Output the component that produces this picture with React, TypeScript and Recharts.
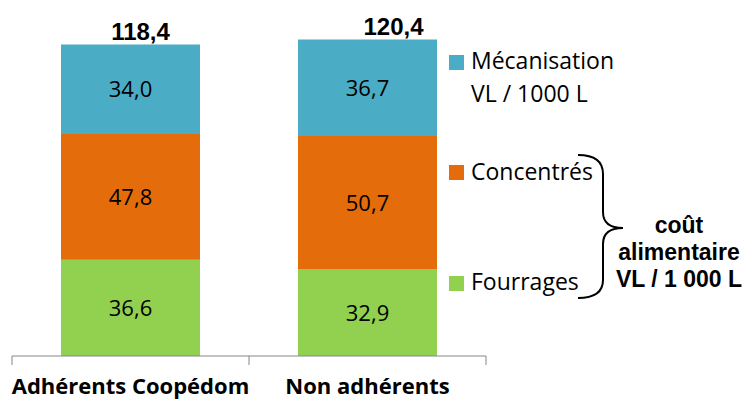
import { BarChart, Bar, XAxis, YAxis, LabelList } from "recharts";

const categories = ["Adhérents Coopédom", "Non adhérents"];
const fourrages = [36.6, 32.9];
const concentres = [47.8, 50.7];
const mecanisation = [34.0, 36.7];
const totals = [118.4, 120.4];

const seriesNames = ["Mécanisation", "Concentrés", "Fourrages"];
const seriesColors = ["#4BACC6", "#E46C0A", "#92D050"];

const data = categories.map((name, i) => ({
  name,
  fourrages: fourrages[i],
  concentres: concentres[i],
  mecanisation: mecanisation[i],
  total: totals[i],
}));

const W = 746;
const H = 400;
const MARGIN = { top: 14, right: 260, bottom: 0, left: 12 };
const PLOT_W = W - MARGIN.left - MARGIN.right;
const HALF_BAND = PLOT_W / categories.length / 2;
// hand-placed total labels in the original sit a bit right of centre
const TOTAL_DX = [10, 26];

const SANS = "'Open Sans', sans-serif";
const ARIAL = "'Liberation Sans', Arial, sans-serif";

const fmt = (v: number) => v.toFixed(1).replace(".", ",");

function CategoryTick(props: any) {
  const { x, y, payload, index } = props;
  return (
    <g>
      {index === 0 && (
        <line x1={x - HALF_BAND} x2={x - HALF_BAND} y1={y} y2={y + 9} stroke="#868686" />
      )}
      <line x1={x + HALF_BAND} x2={x + HALF_BAND} y1={y} y2={y + 9} stroke="#868686" />
      <text
        x={x}
        y={y + 38}
        textAnchor="middle"
        fontFamily={SANS}
        fontWeight="bold"
        fontSize={22}
        fill="#000"
      >
        {payload.value}
      </text>
    </g>
  );
}

function TotalLabel(props: any) {
  const { x, y, width, value, index } = props;
  return (
    <text
      x={x + width / 2 + TOTAL_DX[index]}
      y={y - 5}
      textAnchor="middle"
      fontFamily={ARIAL}
      fontWeight="bold"
      fontSize={24}
      fill="#000"
    >
      {fmt(value)}
    </text>
  );
}

function LegendOverlay() {
  const squares = [55, 165, 276];
  return (
    <svg
      width={W}
      height={H}
      style={{ position: "absolute", left: 0, top: 0, pointerEvents: "none" }}
    >
      {seriesColors.map((c, i) => (
        <rect key={c} x={449} y={squares[i]} width={15} height={15} fill={c} />
      ))}
      <g fontFamily={SANS} fontSize={23} fill="#000">
        <text x={471} y={69}>{seriesNames[0]}</text>
        <text x={471} y={102}>VL / 1000 L</text>
        <text x={471} y={180}>{seriesNames[1]}</text>
        <text x={471} y={290}>{seriesNames[2]}</text>
      </g>
      <path
        d="M578,155 Q603,155 603,174 L603,212 Q603,228 623,228 Q603,228 603,244 L603,280 Q603,298 578,298"
        fill="none"
        stroke="#000"
        strokeWidth={2}
      />
      <g fontFamily={ARIAL} fontWeight="bold" fontSize={23} fill="#000" textAnchor="middle">
        <text x={679} y={233}>coût</text>
        <text x={679} y={260}>alimentaire</text>
        <text x={679} y={287}>VL / 1 000 L</text>
      </g>
    </svg>
  );
}

export default function App() {
  return (
    <div style={{ position: "relative", width: W, height: H, background: "#fff" }}>
      <style>{`body{margin:0}`}</style>
      <BarChart width={W} height={H} data={data} margin={MARGIN} barCategoryGap={49}>
        <XAxis
          dataKey="name"
          height={44}
          axisLine={{ stroke: "#868686" }}
          tickLine={false}
          tickSize={0}
          tickMargin={0}
          tick={<CategoryTick />}
          interval={0}
        />
        <YAxis hide domain={[0, 130]} />
        <Bar dataKey="fourrages" stackId="a" fill={seriesColors[2]} isAnimationActive={false}>
          <LabelList dataKey="fourrages" position="center" formatter={fmt} fill="#000" fontSize={22} fontFamily={SANS} />
        </Bar>
        <Bar dataKey="concentres" stackId="a" fill={seriesColors[1]} isAnimationActive={false}>
          <LabelList dataKey="concentres" position="center" formatter={fmt} fill="#000" fontSize={22} fontFamily={SANS} />
        </Bar>
        <Bar dataKey="mecanisation" stackId="a" fill={seriesColors[0]} isAnimationActive={false}>
          <LabelList dataKey="mecanisation" position="center" formatter={fmt} fill="#000" fontSize={22} fontFamily={SANS} />
          <LabelList dataKey="total" content={<TotalLabel />} />
        </Bar>
      </BarChart>
      <LegendOverlay />
    </div>
  );
}
